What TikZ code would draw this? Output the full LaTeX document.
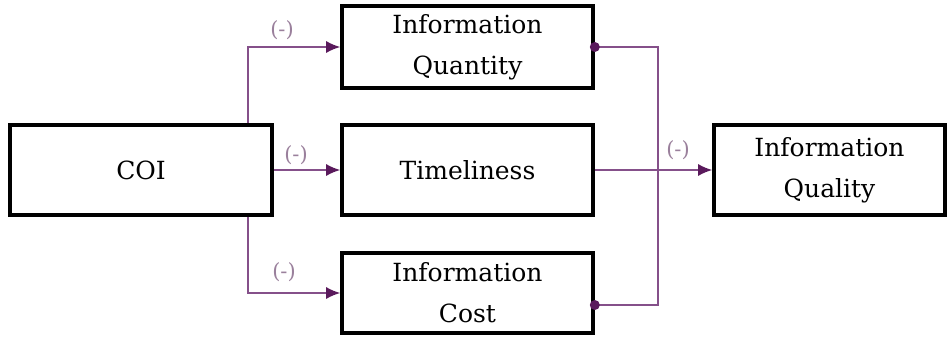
\documentclass[tikz,border=0pt]{standalone}
\usepackage{fontspec}
\setmainfont{DejaVu Serif}
\usetikzlibrary{arrows.meta,calc}
\definecolor{linec}{HTML}{85508A}
\definecolor{headc}{HTML}{5A1A5C}
\definecolor{labc}{HTML}{9A809C}
\begin{document}
\begin{tikzpicture}[x=1pt,y=-1pt,
  box/.style={draw=black,line width=3.6pt,rectangle,inner sep=0pt,align=center,
    font=\fontsize{25}{41}\selectfont},
  conn/.style={draw=linec,line width=1.5pt,-{Latex[length=14pt,width=12pt,color=headc]}},
  plain/.style={draw=linec,line width=1.5pt},
  sign/.style={text=labc,font=\fontsize{21}{23}\selectfont,inner sep=0pt},
  dotm/.style={circle,fill=headc,inner sep=0pt,minimum size=10pt}]
\useasboundingbox (0,0) rectangle (952,337);
\node[box,minimum width=262pt,minimum height=90pt] (coi) at (141,170) {COI};
\node[box,minimum width=251pt,minimum height=82pt] (iq) at (467.5,47) {Information\\Quantity};
\node[box,minimum width=251pt,minimum height=90pt] (tim) at (467.5,170) {Timeliness};
\node[box,minimum width=251pt,minimum height=80pt] (cost) at (467.5,293) {Information\\Cost};
\node[box,minimum width=231pt,minimum height=90pt] (ql) at (829.5,170) {Information\\Quality};
\draw[conn] ([xshift=-26pt]coi.north east) |- (iq.west);
\draw[conn] (coi.east) -- (tim.west);
\draw[conn] ([xshift=-26pt]coi.south east) |- (cost.west);
\draw[conn] (tim.east) -- (ql.west);
\coordinate (cd) at ([yshift=-12pt]cost.east);
\draw[plain] (iq.east) -- ++(63,0) |- (cd);
\node[dotm] at (iq.east) {};
\node[dotm] at (cd) {};
\node[sign] at (282,30) {(-)};
\node[sign] at (296,155) {(-)};
\node[sign] at (284,272) {(-)};
\node[sign] at (678,150) {(-)};
\end{tikzpicture}
\end{document}
